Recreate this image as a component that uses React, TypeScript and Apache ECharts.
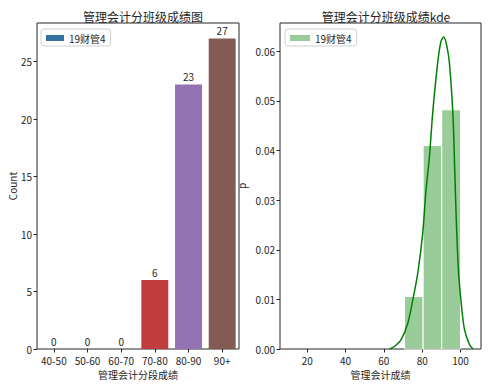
import React, { useEffect, useRef } from "react";
import * as echarts from "echarts";

const categories = ["40-50", "50-60", "60-70", "70-80", "80-90", "90+"];
const counts = [0, 0, 0, 6, 23, 27];
const barColors = ["#3274a1", "#e1812c", "#3a923a", "#c03d3e", "#9372b2", "#845b53"];
const countTicks = [0, 5, 10, 15, 20, 25];

const binEdges = [70.8, 80.5, 90.2, 100];
const densities = [0.0106, 0.041, 0.0482];
const kdeX = [63, 65.5, 69, 72.5, 75.1, 77.7, 80.3, 82, 83.8, 85.5, 88.1, 89.8, 91.3, 92.8, 94.2, 96, 97, 97.8, 98.9, 100.3, 102.1, 104.7, 106.5];
const kdeY = [0, 0.0005, 0.0019, 0.0052, 0.0099, 0.0153, 0.0234, 0.032, 0.0388, 0.0476, 0.0577, 0.062, 0.0629, 0.0612, 0.0577, 0.0476, 0.036, 0.026, 0.016, 0.0095, 0.0039, 0.0009, 0];
const scoreTicks = [20, 40, 60, 80, 100];
const densityTicks = [0, 0.01, 0.02, 0.03, 0.04, 0.05, 0.06];

const FONT = "'Noto Sans CJK SC', sans-serif";
const INK = "#262626";

export default function App() {
  const ref = useRef<HTMLDivElement>(null);
  useEffect(() => {
    if (!ref.current) return;
    const chart = echarts.init(ref.current, null, { renderer: "svg" });
    const histData = densities.map((d, i) => [binEdges[i], binEdges[i + 1], d]);
    const kdeData = kdeX.map((x, i) => [x, kdeY[i]]);
    const axisTick = { show: true, length: 3.5, lineStyle: { color: INK, width: 1 } };
    const axisLabelBase = { color: INK, fontSize: 10, fontFamily: FONT };
    chart.setOption({
      animation: false,
      textStyle: { fontFamily: FONT },
      title: [
        { text: "管理会计分班级成绩图", left: 138, top: 5, textAlign: "center", textStyle: { fontSize: 12, fontWeight: "normal", color: INK, fontFamily: FONT } },
        { text: "管理会计分班级成绩kde", left: 381, top: 5, textAlign: "center", textStyle: { fontSize: 12, fontWeight: "normal", color: INK, fontFamily: FONT } },
      ],
      legend: [
        {
          data: ["bars"], left: 41, top: 29, orient: "vertical",
          formatter: () => "19财管4",
          icon: "rect", itemWidth: 18, itemHeight: 6,
          borderColor: "#d0d0d0", borderWidth: 1, borderRadius: 3, padding: [4, 5, 3, 5],
          backgroundColor: "#fff",
          textStyle: { fontSize: 10, color: INK, fontFamily: FONT },
        },
        {
          data: ["hist"], left: 285, top: 29, orient: "vertical",
          formatter: () => "19财管4",
          icon: "rect", itemWidth: 20, itemHeight: 6,
          borderColor: "#d0d0d0", borderWidth: 1, borderRadius: 3, padding: [4, 5, 3, 5],
          backgroundColor: "#fff",
          textStyle: { fontSize: 10, color: INK, fontFamily: FONT },
        },
      ],
      grid: [
        { left: 37, right: 250, top: 23, bottom: 36, show: true, borderColor: INK, borderWidth: 1 },
        { left: 280, right: 8, top: 23, bottom: 36, show: true, borderColor: INK, borderWidth: 1 },
      ],
      xAxis: [
        {
          type: "category", gridIndex: 0, data: categories,
          axisLine: { show: false },
          axisTick: { ...axisTick, alignWithLabel: true },
          axisLabel: { ...axisLabelBase, margin: 6 },
          name: "管理会计分段成绩", nameLocation: "middle", nameGap: 18,
          nameTextStyle: { fontSize: 10, color: INK, fontFamily: FONT },
          splitLine: { show: false },
        },
        {
          type: "value", gridIndex: 1, min: 5.8, max: 110.7,
          axisLine: { show: false },
          axisTick: { ...axisTick, customValues: scoreTicks },
          axisLabel: { ...axisLabelBase, margin: 6, customValues: scoreTicks },
          name: "管理会计成绩", nameLocation: "middle", nameGap: 18,
          nameTextStyle: { fontSize: 10, color: INK, fontFamily: FONT },
          splitLine: { show: false },
        },
      ],
      yAxis: [
        {
          type: "value", gridIndex: 0, min: 0, max: 28.35,
          axisLine: { show: false },
          axisTick: { ...axisTick, customValues: countTicks },
          axisLabel: { ...axisLabelBase, margin: 5, customValues: countTicks },
          name: "Count", nameLocation: "middle", nameGap: 20,
          nameTextStyle: { fontSize: 10, color: INK, fontFamily: FONT },
          splitLine: { show: false },
        },
        {
          type: "value", gridIndex: 1, min: 0, max: 0.0657,
          axisLine: { show: false },
          axisTick: { ...axisTick, customValues: densityTicks },
          axisLabel: { ...axisLabelBase, margin: 5, customValues: densityTicks, formatter: (v: number) => v.toFixed(2) },
          name: "p", nameLocation: "middle", nameGap: 34,
          nameTextStyle: { fontSize: 10, color: INK, fontFamily: FONT },
          splitLine: { show: false },
        },
      ],
      series: [
        {
          name: "bars", type: "bar", xAxisIndex: 0, yAxisIndex: 0, barWidth: "80%",
          itemStyle: { color: barColors[0] },
          data: counts.map((c, i) => ({ value: c, itemStyle: { color: barColors[i] } })),
          label: { show: true, position: "top", distance: 3, fontSize: 10, color: INK, fontFamily: FONT },
        },
        {
          name: "hist", type: "custom", xAxisIndex: 1, yAxisIndex: 1,
          itemStyle: { color: "rgba(0,128,0,0.4)" },
          encode: { x: [0, 1], y: 2 },
          data: histData,
          renderItem: (params: any, api: any) => {
            const p0 = api.coord([api.value(0), api.value(2)]);
            const p1 = api.coord([api.value(1), 0]);
            return {
              type: "rect",
              shape: { x: p0[0], y: p0[1], width: p1[0] - p0[0], height: p1[1] - p0[1] },
              style: { fill: "rgba(0,128,0,0.4)", stroke: "#ffffff", lineWidth: 1 },
            };
          },
        },
        {
          name: "kde", type: "line", xAxisIndex: 1, yAxisIndex: 1,
          data: kdeData, showSymbol: false, smooth: 0.3,
          lineStyle: { color: "#008000", width: 1.5 },
          itemStyle: { color: "#008000" },
        },
      ],
    });
    return () => chart.dispose();
  }, []);
  return <div ref={ref} style={{ width: 489, height: 385, position: "absolute", left: 0, top: 0 }} />;
}
